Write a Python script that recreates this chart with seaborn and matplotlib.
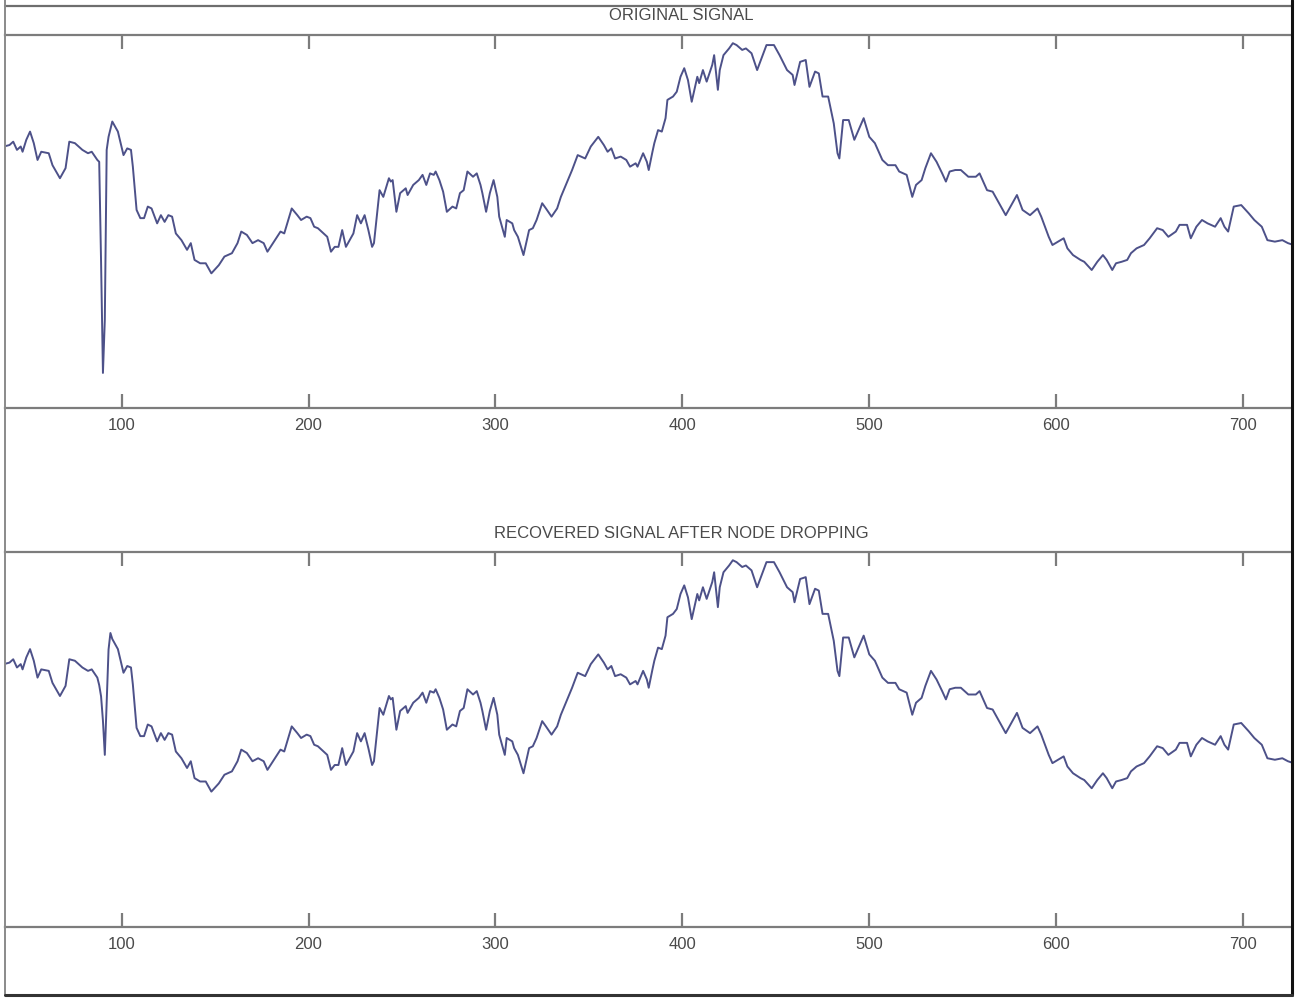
import matplotlib
matplotlib.use("Agg")
import matplotlib.pyplot as plt
from matplotlib.lines import Line2D
import pandas as pd
import seaborn as sns

# ---------------- data ----------------
# signal part shared by both panels, before the faulty node
head_index = [37, 40, 42, 44, 46, 47, 49, 51, 53, 55, 57, 61, 63, 67, 70, 72, 75, 79, 82, 84, 87]
head_value = [70.1, 70.5, 71.4, 69.2, 70.1, 68.7, 71.9, 74.1, 71.0, 66.5, 68.7, 68.3, 65.1, 61.6,
              64.3, 71.4, 71.0, 69.2, 68.3, 68.7, 66.5]

# faulty-node spike in the original signal
original_spike_index = [88, 89, 90, 91, 92, 93]
original_spike_value = [66.0, 39.1, 9.4, 23.6, 69.2, 72.7]

# the same region after node dropping
recovered_spike_index = [88, 89, 90, 91, 92, 93, 94]
recovered_spike_value = [64.5, 61.5, 55.0, 45.9, 60.0, 74.0, 78.4]

# signal part shared by both panels, after the faulty node
tail_index = [95, 98, 101, 103, 105, 106, 108, 110, 112, 114, 116, 119, 121, 123, 125, 127, 129, 132,
              135, 137, 139, 142, 145, 148, 152, 155, 159, 162, 164, 167, 170, 173, 176, 178, 182, 185,
              187, 191, 194, 196, 199, 201, 203, 205, 208, 210, 212, 214, 216, 218, 220, 222, 224, 226,
              228, 230, 232, 234, 235, 238, 240, 243, 244, 245, 247, 249, 252, 253, 256, 259, 261, 263,
              265, 267, 268, 270, 272, 274, 277, 279, 281, 283, 285, 288, 290, 292, 293, 295, 297, 299,
              301, 302, 305, 306, 309, 310, 312, 315, 318, 320, 322, 325, 327, 330, 333, 335, 338, 341,
              344, 348, 351, 355, 358, 360, 362, 364, 367, 370, 372, 375, 376, 379, 381, 382, 384, 385,
              387, 389, 391, 392, 395, 397, 399, 401, 403, 405, 408, 409, 411, 413, 416, 417, 419, 420,
              422, 425, 427, 429, 432, 434, 437, 440, 442, 445, 449, 452, 456, 459, 460, 463, 466, 468,
              471, 473, 475, 478, 481, 483, 484, 486, 489, 492, 497, 500, 503, 507, 510, 514, 516, 520,
              523, 525, 528, 530, 533, 536, 539, 541, 543, 546, 549, 553, 557, 559, 563, 566, 570, 573,
              576, 579, 582, 586, 590, 592, 596, 598, 601, 604, 606, 609, 613, 615, 619, 622, 625, 627,
              630, 632, 635, 638, 640, 643, 647, 650, 654, 657, 660, 664, 666, 670, 672, 675, 678, 681,
              685, 688, 690, 692, 695, 699, 703, 706, 710, 713, 717, 721, 724, 727]
tail_value = [76.8, 74.1, 67.8, 69.6, 69.2, 64.7, 53.1, 50.9, 50.9, 54.0, 53.5, 49.5, 51.7, 49.9, 51.7,
              51.3, 46.8, 45.0, 42.4, 44.2, 39.7, 38.8, 38.8, 36.1, 38.3, 40.6, 41.5, 44.2, 47.3, 46.4,
              44.2, 45.0, 44.2, 41.9, 45.0, 47.3, 46.8, 53.5, 51.7, 50.4, 51.3, 50.9, 48.6, 48.2, 46.8,
              45.9, 41.9, 43.2, 43.2, 47.7, 43.2, 45.0, 46.8, 51.7, 49.5, 51.7, 47.7, 43.2, 44.2, 58.4,
              56.6, 61.6, 60.7, 61.1, 52.6, 57.6, 58.9, 57.1, 59.8, 61.1, 62.5, 59.8, 62.9, 62.5, 63.4,
              61.1, 58.0, 52.6, 54.0, 53.5, 57.6, 58.4, 63.4, 62.0, 62.9, 59.8, 57.6, 52.6, 57.6, 61.1,
              56.6, 51.3, 45.9, 50.4, 49.5, 47.7, 45.9, 41.0, 47.7, 48.2, 50.4, 54.9, 53.5, 51.3, 53.5,
              56.6, 60.2, 63.8, 67.8, 66.9, 70.1, 72.7, 70.5, 68.7, 69.6, 66.9, 67.4, 66.5, 64.7, 65.6,
              64.7, 68.3, 66.0, 63.8, 68.7, 71.0, 74.5, 74.1, 77.7, 82.6, 83.5, 84.8, 88.8, 91.1, 87.9,
              82.1, 88.8, 87.1, 90.6, 87.5, 92.0, 94.6, 85.3, 90.6, 94.6, 96.4, 97.8, 97.3, 96.0, 96.4,
              95.1, 90.6, 93.3, 97.3, 97.3, 94.6, 90.6, 89.3, 86.6, 92.8, 93.3, 86.1, 90.2, 89.7, 83.5,
              83.5, 76.3, 68.3, 66.9, 77.2, 77.2, 71.9, 77.7, 72.7, 71.0, 66.5, 65.1, 65.1, 63.4, 62.5,
              56.6, 59.8, 61.1, 64.3, 68.3, 66.0, 62.9, 60.7, 63.4, 63.8, 63.8, 62.0, 62.0, 62.9, 58.4,
              58.0, 54.4, 51.7, 54.4, 57.1, 53.1, 51.7, 53.5, 51.3, 45.9, 43.7, 44.6, 45.5, 42.8, 41.0,
              39.7, 39.2, 37.0, 39.2, 41.0, 39.7, 37.0, 38.8, 39.2, 39.7, 41.5, 42.8, 43.7, 45.5, 48.2,
              47.7, 45.9, 47.3, 49.1, 49.1, 45.5, 48.6, 50.4, 49.5, 48.6, 50.9, 48.6, 47.3, 54.0, 54.4,
              52.2, 50.4, 48.6, 45.0, 44.6, 45.0, 44.2, 43.7]

tick_values = [100, 200, 300, 400, 500, 600, 700]
tick_labels = ["100", "200", "300", "400", "500", "600", "700"]
panel_titles = ["ORIGINAL SIGNAL", "RECOVERED SIGNAL AFTER NODE DROPPING"]

original = pd.DataFrame({"sample": head_index + original_spike_index + tail_index,
                         "value": head_value + original_spike_value + tail_value})
recovered = pd.DataFrame({"sample": head_index + recovered_spike_index + tail_index,
                          "value": head_value + recovered_spike_value + tail_value})

# ---------------- styling ----------------
sns.set_theme(style="white")
plt.rcParams["font.family"] = ["Liberation Sans", "DejaVu Sans"]

W, H = 1297, 998
fig = plt.figure(figsize=(W / 100, H / 100), dpi=100, facecolor="white")

left_px, right_px = 5.0, 1291.7
panels = [(35.0, 408.0), (552.0, 927.0)]  # (top, bottom) pixel rows of each axes
line_color = "#4d5189"
spine_color = "#7c7c7c"
text_color = "#4a4a4a"

for (top_px, bot_px), data, title in zip(panels, [original, recovered], panel_titles):
    ax = fig.add_axes([left_px / W, 1 - bot_px / H, (right_px - left_px) / W, (bot_px - top_px) / H])
    ax.set_facecolor("white")
    sns.lineplot(data=data, x="sample", y="value", ax=ax, color=line_color,
                 linewidth=1.4, sort=False, estimator=None)
    ax.set_xlim(37.6, 726.0)
    ax.set_ylim(0, 100)
    ax.set_xlabel("")
    ax.set_ylabel("")
    ax.set_yticks([])
    ax.set_xticks(tick_values)
    ax.set_xticklabels(tick_labels)
    ax.tick_params(axis="x", direction="in", length=10, width=1.6, colors=spine_color,
                   top=True, bottom=True, labeltop=False, labelbottom=True,
                   labelsize=12, labelcolor=text_color, pad=7.5)
    for side in ["left", "right"]:
        ax.spines[side].set_visible(False)
    for side in ["top", "bottom"]:
        ax.spines[side].set_visible(True)
        ax.spines[side].set_color(spine_color)
        ax.spines[side].set_linewidth(1.6)
    ax.annotate(title, xy=(0.5258, 1.0), xycoords="axes fraction",
                xytext=(0, 19), textcoords="offset pixels",
                ha="center", va="center", fontsize=12, color=text_color)

# window border of the screenshot
def fig_line(x0, y0, x1, y1, color, lw):
    fig.add_artist(Line2D([x0 / W, x1 / W], [1 - y0 / H, 1 - y1 / H],
                          transform=fig.transFigure, color=color, linewidth=lw))

fig_line(left_px, 5.7, right_px, 5.7, "#6e6e6e", 1.6)
fig_line(left_px, 0, left_px, 995, "#8a8a8a", 1.4)
fig_line(right_px, 0, right_px, 995, "#111111", 2.2)
fig_line(left_px, 995, right_px, 995, "#333333", 2.2)

fig.savefig("out.png", dpi=100, facecolor="white")
